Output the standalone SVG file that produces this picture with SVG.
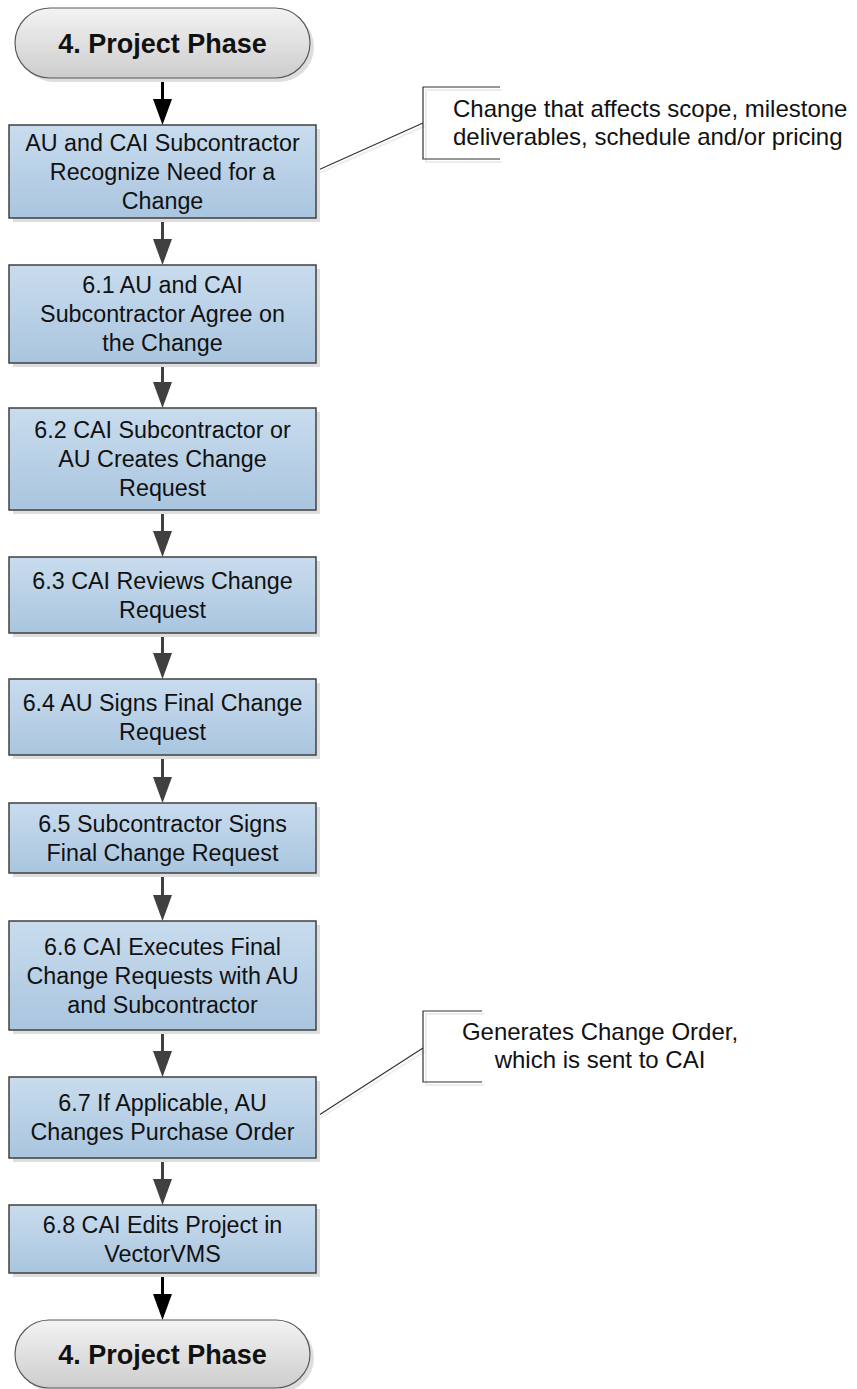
<svg xmlns="http://www.w3.org/2000/svg" width="857" height="1389" viewBox="0 0 857 1389">
<style>
.box{fill:url(#gBlue);stroke:#404040;stroke-width:1.5}
.shadow{fill:#dedede}
.term{fill:url(#gGray);stroke:#595959;stroke-width:1.2}
.t{font-family:"Liberation Sans",Arial,sans-serif;font-size:23.3px;fill:#111;text-anchor:middle}
.tt{font-family:"Liberation Sans",Arial,sans-serif;font-size:27px;font-weight:bold;fill:#111;text-anchor:middle}
.ann{font-family:"Liberation Sans",Arial,sans-serif;font-size:24px;fill:#111}
.arr{stroke:#404040;stroke-width:3;fill:none;marker-end:url(#mGray)}
.arrb{stroke:#000;stroke-width:3;fill:none;marker-end:url(#mBlack)}
.cl{stroke:#333;stroke-width:1.2;fill:none}
.cls{stroke:#ededed;stroke-width:2;fill:none}
</style>
<defs>
<linearGradient id="gBlue" x1="0" y1="0" x2="0" y2="1">
<stop offset="0" stop-color="#c9dcee"/>
<stop offset="1" stop-color="#a9c5df"/>
</linearGradient>
<linearGradient id="gGray" x1="0" y1="0" x2="0" y2="1">
<stop offset="0" stop-color="#f3f3f3"/>
<stop offset="1" stop-color="#cdcdcd"/>
</linearGradient>
<marker id="mGray" viewBox="0 0 26 19" refX="16" refY="9.5" markerWidth="26" markerHeight="19" markerUnits="userSpaceOnUse" orient="auto">
<path d="M0,0 L26,9.5 L0,19 z" fill="#404040"/>
</marker>
<marker id="mBlack" viewBox="0 0 26 19" refX="16" refY="9.5" markerWidth="26" markerHeight="19" markerUnits="userSpaceOnUse" orient="auto">
<path d="M0,0 L26,9.5 L0,19 z" fill="#000"/>
</marker>
</defs>
<rect width="857" height="1389" fill="#fff"/>

<g id="connectors">
<line class="arrb" x1="162.5" y1="78" x2="162.5" y2="115"/>
<line class="arr" x1="162.5" y1="218" x2="162.5" y2="255"/>
<line class="arr" x1="162.5" y1="363" x2="162.5" y2="398"/>
<line class="arr" x1="162.5" y1="510" x2="162.5" y2="547"/>
<line class="arr" x1="162.5" y1="633" x2="162.5" y2="669"/>
<line class="arr" x1="162.5" y1="755" x2="162.5" y2="793"/>
<line class="arr" x1="162.5" y1="873" x2="162.5" y2="911"/>
<line class="arr" x1="162.5" y1="1030" x2="162.5" y2="1067"/>
<line class="arr" x1="162.5" y1="1158" x2="162.5" y2="1195"/>
<line class="arrb" x1="162.5" y1="1273" x2="162.5" y2="1310"/>
<line class="cls" x1="317" y1="174" x2="425" y2="126"/>
<line class="cl" x1="316" y1="171" x2="423" y2="123"/>
<line class="cls" x1="317" y1="1120" x2="425" y2="1051"/>
<line class="cl" x1="316" y1="1117" x2="423" y2="1048"/>
</g>

<g id="start">
<rect class="shadow" x="19" y="12" width="295" height="70" rx="35"/>
<rect class="term" x="15" y="8" width="295" height="70" rx="35"/>
<text class="tt" x="162.5" y="52.5">4. Project Phase</text>
</g>

<g id="recognize">
<rect class="shadow" x="13" y="129" width="307" height="93"/>
<rect class="box" x="9" y="125" width="307" height="93"/>
<text class="t" x="162.5" y="150.5">AU and CAI Subcontractor</text>
<text class="t" x="162.5" y="179.5">Recognize Need for a</text>
<text class="t" x="162.5" y="208.5">Change</text>
</g>

<g id="s61">
<rect class="shadow" x="13" y="269" width="307" height="98"/>
<rect class="box" x="9" y="265" width="307" height="98"/>
<text class="t" x="162.5" y="293">6.1 AU and CAI</text>
<text class="t" x="162.5" y="322">Subcontractor Agree on</text>
<text class="t" x="162.5" y="351">the Change</text>
</g>

<g id="s62">
<rect class="shadow" x="13" y="412" width="307" height="102"/>
<rect class="box" x="9" y="408" width="307" height="102"/>
<text class="t" x="162.5" y="438">6.2 CAI Subcontractor or</text>
<text class="t" x="162.5" y="467">AU Creates Change</text>
<text class="t" x="162.5" y="496">Request</text>
</g>

<g id="s63">
<rect class="shadow" x="13" y="561" width="307" height="76"/>
<rect class="box" x="9" y="557" width="307" height="76"/>
<text class="t" x="162.5" y="588.5">6.3 CAI Reviews Change</text>
<text class="t" x="162.5" y="617.5">Request</text>
</g>

<g id="s64">
<rect class="shadow" x="13" y="683" width="307" height="76"/>
<rect class="box" x="9" y="679" width="307" height="76"/>
<text class="t" x="162.5" y="710.5">6.4 AU Signs Final Change</text>
<text class="t" x="162.5" y="739.5">Request</text>
</g>

<g id="s65">
<rect class="shadow" x="13" y="807" width="307" height="70"/>
<rect class="box" x="9" y="803" width="307" height="70"/>
<text class="t" x="162.5" y="831.5">6.5 Subcontractor Signs</text>
<text class="t" x="162.5" y="860.5">Final Change Request</text>
</g>

<g id="s66">
<rect class="shadow" x="13" y="925" width="307" height="109"/>
<rect class="box" x="9" y="921" width="307" height="109"/>
<text class="t" x="162.5" y="954.5">6.6 CAI Executes Final</text>
<text class="t" x="162.5" y="983.5">Change Requests with AU</text>
<text class="t" x="162.5" y="1012.5">and Subcontractor</text>
</g>

<g id="s67">
<rect class="shadow" x="13" y="1081" width="307" height="81"/>
<rect class="box" x="9" y="1077" width="307" height="81"/>
<text class="t" x="162.5" y="1111">6.7 If Applicable, AU</text>
<text class="t" x="162.5" y="1140">Changes Purchase Order</text>
</g>

<g id="s68">
<rect class="shadow" x="13" y="1209" width="307" height="68"/>
<rect class="box" x="9" y="1205" width="307" height="68"/>
<text class="t" x="162.5" y="1232.5">6.8 CAI Edits Project in</text>
<text class="t" x="162.5" y="1261.5">VectorVMS</text>
</g>

<g id="end">
<rect class="shadow" x="19" y="1324" width="295" height="68" rx="34"/>
<rect class="term" x="15" y="1320" width="295" height="68" rx="34"/>
<text class="tt" x="162.5" y="1363.5">4. Project Phase</text>
</g>

<g id="note1">
<path class="cls" d="M502,90 H426 V162 H502"/>
<path class="cl" d="M500,87 H423 V159 H500"/>
<text class="ann" x="453" y="117">Change that affects scope, milestone</text>
<text class="ann" x="453" y="145">deliverables, schedule and/or pricing</text>
</g>

<g id="note2">
<path class="cls" d="M484,1014 H426 V1085 H484"/>
<path class="cl" d="M482,1011 H423 V1082 H482"/>
<text class="ann" x="600" y="1040" text-anchor="middle">Generates Change Order,</text>
<text class="ann" x="600" y="1068" text-anchor="middle">which is sent to CAI</text>
</g>
</svg>
